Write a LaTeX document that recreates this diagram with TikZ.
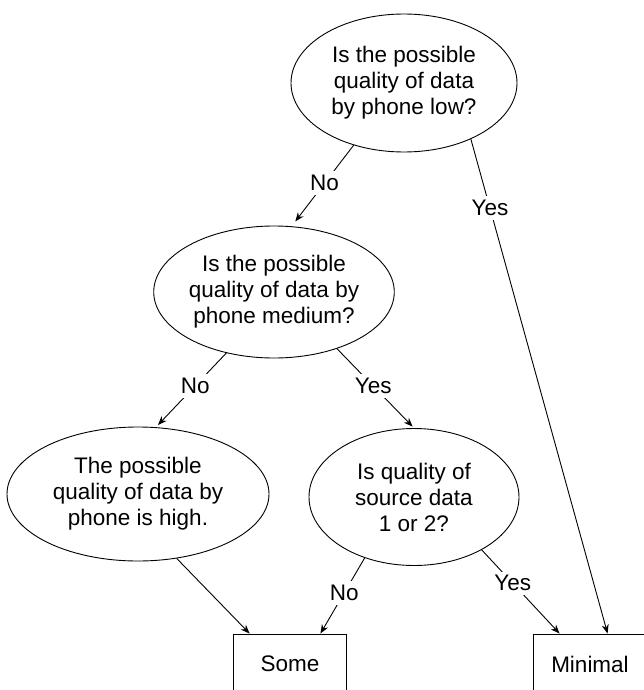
\documentclass[tikz,border=0pt]{standalone}
\usepackage{fontspec}
\setmainfont{Liberation Sans}
\usetikzlibrary{positioning}
\usetikzlibrary{arrows.meta}
\usetikzlibrary{shapes.geometric}
\tikzset{
  myarrow/.style={
    draw=black,
    line width=0.9pt,
    -{Stealth[length=9pt,width=7pt]},
  },
  myellipse/.style={
    draw=black,
    shape=ellipse,
    line width=0.9pt,
    inner sep=0pt,
    align=center,
  },
  mybox/.style={
    draw=black,
    shape=rectangle,
    line width=0.9pt,
    minimum width=113pt,
    minimum height=60pt,
  },
  mylabel/.style={
    fill=white,
    inner sep=4pt,
  }
}

\begin{document}
\begin{tikzpicture}[x=1pt, y=-1pt, font=\fontsize{22.5}{26}\selectfont]
    \useasboundingbox (0,0) rectangle (644,690);
    \clip (0,0) rectangle (644,690);

    \node[myellipse, minimum width=226pt, minimum height=138pt] (low)    at (404,83)  {Is the possible\\quality of data\\by phone low?};
    \node[myellipse, minimum width=240pt, minimum height=132pt] (medium) at (274,292) {Is the possible\\quality of data by\\phone medium?};
    \node[myellipse, minimum width=262pt, minimum height=134pt] (high)   at (138,494) {The possible\\quality of data by\\phone is high.};
    \node[myellipse, minimum width=210pt, minimum height=137pt] (source) at (414,497) {Is quality of\\source data\\1 or 2?};
    \node[mybox] (some)    at (290,664) {Some};
    \node[mybox] (minimal) at (590,664) {Minimal};

    \draw[myarrow, shorten >=6pt] (low.231)    -- node[mylabel, pos=0.47] {No}  (medium.75);
    \draw[myarrow]                (low.320)    -- node[mylabel, pos=0.14] {Yes} (minimal.60);
    \draw[myarrow, shorten >=3pt] (medium.232) -- node[mylabel, pos=0.44] {No}  (high.75);
    \draw[myarrow, shorten >=2pt] (medium.318) -- node[mylabel, pos=0.47] {Yes} (source.north);
    \draw[myarrow]                (high.301)   -- (some.143);
    \draw[myarrow]                (source.231) -- node[mylabel, pos=0.46] {No}  (some.45);
    \draw[myarrow]                (source.322) -- node[mylabel, pos=0.40] {Yes} (minimal.135);
  \end{tikzpicture}
\end{document}
